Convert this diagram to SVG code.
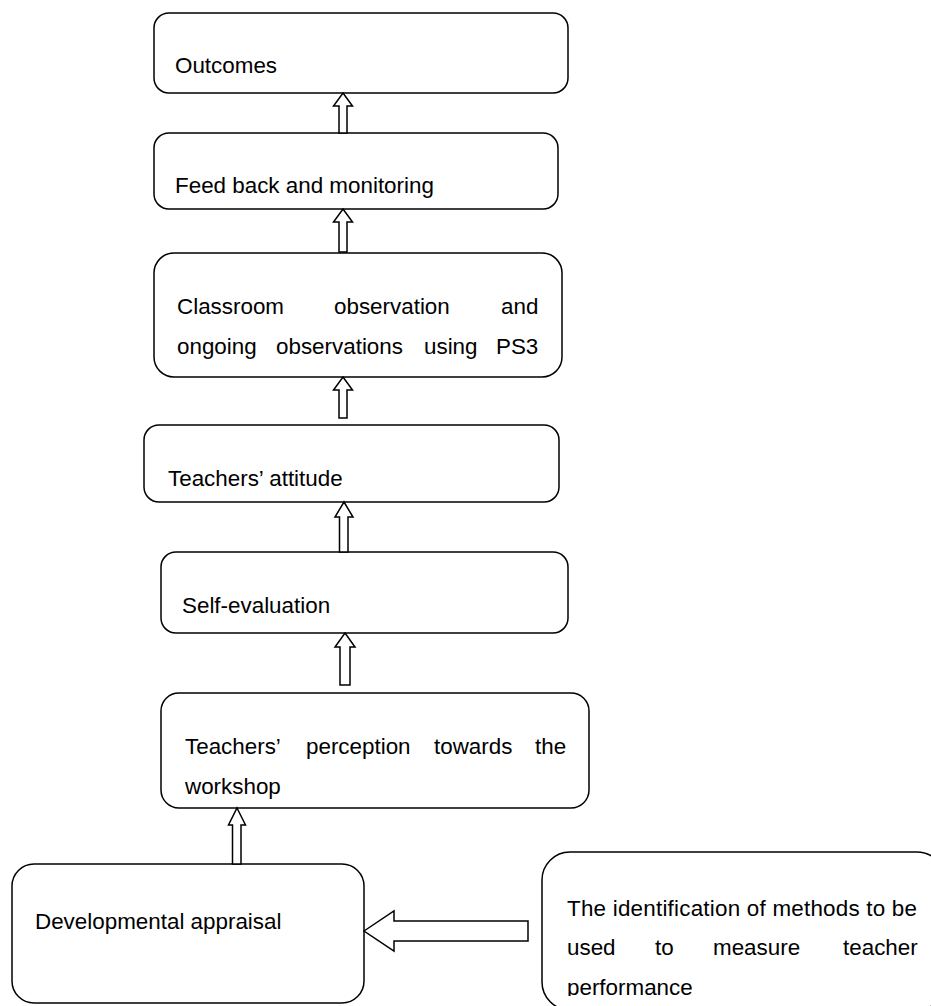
<svg xmlns="http://www.w3.org/2000/svg" width="931" height="1006" viewBox="0 0 931 1006">
<style>
.box{fill:#fff;stroke:#000;stroke-width:1.5}
.arr{fill:#fff;stroke:#000;stroke-width:1.5;stroke-linejoin:miter}
.t{font-family:"Liberation Sans",Arial,sans-serif;font-size:22.4px;fill:#000}
</style>
<defs>
<clipPath id="clip8"><rect x="540" y="850" width="400" height="146"/></clipPath>
</defs>
<rect width="931" height="1006" fill="#fff"/>
<g id="n-outcomes">
<rect class="box" x="154" y="13" width="414" height="80" rx="15"/>
<text class="t" x="175" y="73">Outcomes</text>
</g>
<g id="n-feedback">
<rect class="box" x="154" y="133" width="404" height="76" rx="15"/>
<text class="t" x="175" y="193">Feed back and monitoring</text>
</g>
<g id="n-classroom">
<rect class="box" x="154" y="253" width="408" height="124" rx="20"/>
<text class="t" y="314"><tspan x="177">Classroom</tspan><tspan x="334">observation</tspan><tspan x="501">and</tspan></text>
<text class="t" y="354"><tspan x="177">ongoing</tspan><tspan x="276">observations</tspan><tspan x="424">using</tspan><tspan x="496">PS3</tspan></text>
</g>
<g id="n-attitude">
<rect class="box" x="144" y="425" width="415" height="77" rx="15"/>
<text class="t" x="168" y="486">Teachers’ attitude</text>
</g>
<g id="n-selfeval">
<rect class="box" x="161" y="552" width="407" height="81" rx="15"/>
<text class="t" x="182" y="613">Self-evaluation</text>
</g>
<g id="n-perception">
<rect class="box" x="161" y="693" width="428" height="115" rx="18"/>
<text class="t" y="754"><tspan x="185">Teachers’</tspan><tspan x="306">perception</tspan><tspan x="434">towards</tspan><tspan x="535">the</tspan></text>
<text class="t" x="185" y="794">workshop</text>
</g>
<g id="n-developmental">
<rect class="box" x="12" y="864" width="352" height="139" rx="22"/>
<text class="t" x="35" y="929">Developmental appraisal</text>
</g>
<g id="n-identification">
<rect class="box" x="542" y="852" width="403" height="158" rx="28"/>
<g clip-path="url(#clip8)">
<text class="t" x="567" y="916" textLength="350" lengthAdjust="spacing">The identification of methods to be</text>
<text class="t" y="955"><tspan x="567">used</tspan><tspan x="655">to</tspan><tspan x="713">measure</tspan><tspan x="843">teacher</tspan></text>
<text class="t" x="567" y="995">performance</text>
</g>
</g>
<g id="connectors">
<path class="arr" d="M343,93 L352.5,106 L347,106 L347,133 L339,133 L339,106 L333.5,106 Z"/>
<path class="arr" d="M343,209 L352.5,222 L347,222 L347,252 L339,252 L339,222 L333.5,222 Z"/>
<path class="arr" d="M343,377 L352.5,390 L347,390 L347,418 L339,418 L339,390 L333.5,390 Z"/>
<path class="arr" d="M344,502 L353,517 L348,517 L348,552 L339.5,552 L339.5,517 L335,517 Z"/>
<path class="arr" d="M345,633 L355,647 L350,647 L350,685 L340,685 L340,647 L335,647 Z"/>
<path class="arr" d="M237,808 L245.5,825 L241,825 L241,864 L232.5,864 L232.5,825 L228.5,825 Z"/>
<path class="arr" d="M364,931 L394,911 L394,921 L528,921 L528,941 L394,941 L394,951 Z"/>
</g>
</svg>
